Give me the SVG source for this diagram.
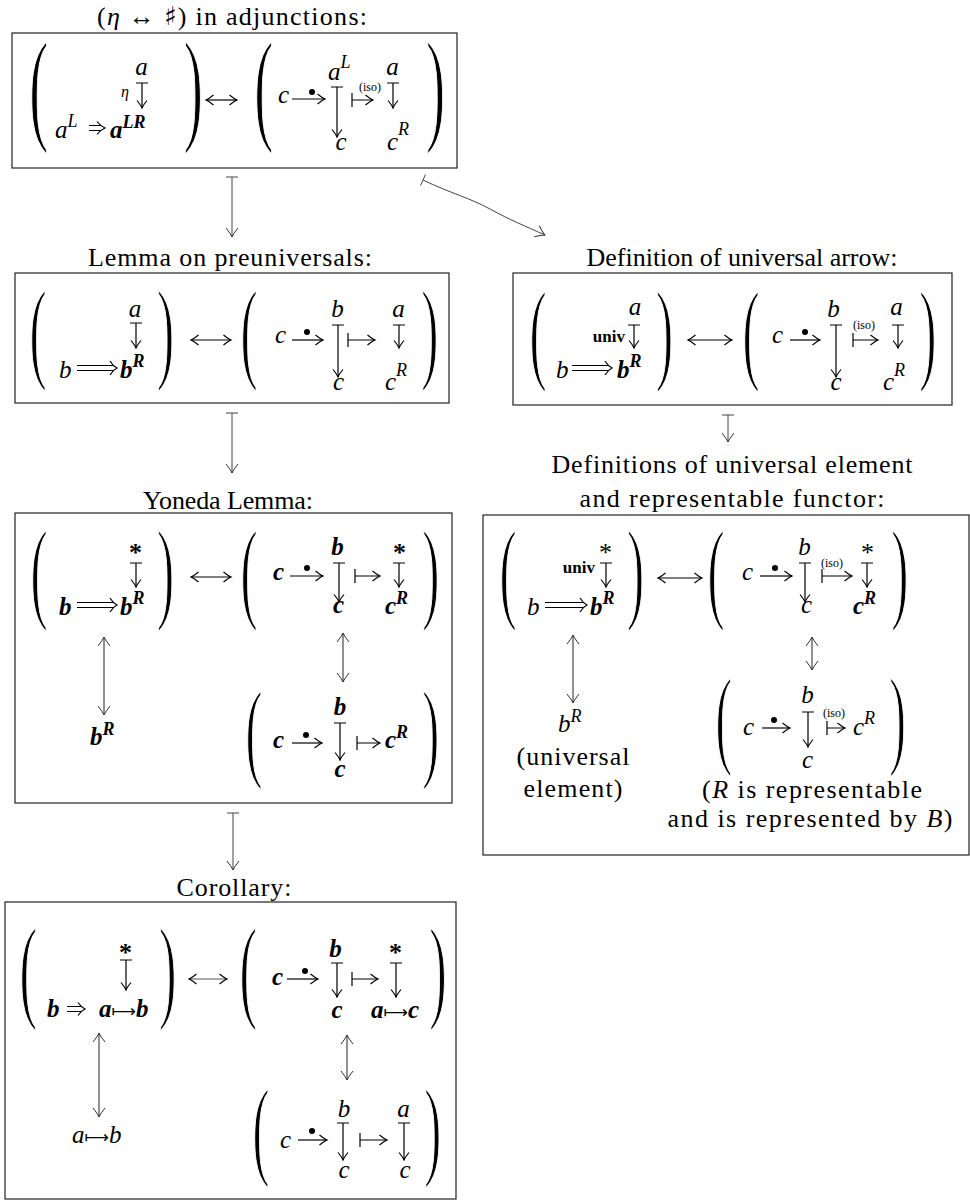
<svg xmlns="http://www.w3.org/2000/svg" width="970" height="1201" viewBox="0 0 970 1201">
<defs>
<style>
.ti{font-family:"Liberation Serif","DejaVu Serif",serif;font-size:26px;fill:#000}
.m{font-family:"Liberation Serif","DejaVu Serif",serif;font-style:italic;font-size:25px;fill:#000}
.b{font-weight:bold}
.st{font-style:normal}
.sp{font-size:18px}
.iso{font-family:"Liberation Serif",serif;font-size:12px;fill:#000}
.un{font-family:"Liberation Serif",serif;font-weight:bold;font-size:17px;fill:#000}
.pa{font-family:"Liberation Serif",serif;font-size:112px;fill:#000;stroke:#fff;stroke-width:1.8px}
.ar{font-family:"DejaVu Sans",sans-serif;font-style:normal;font-weight:normal;font-size:17px}
.c{text-anchor:middle}
.e{text-anchor:end}
.box{fill:none;stroke:#222;stroke-width:1.2}
.a{fill:none;stroke:#000;stroke-width:1.2}
.ah{marker-end:url(#h)}
.dd{marker-start:url(#h);marker-end:url(#h)}
.cn{fill:none;stroke:#444;stroke-width:1;marker-end:url(#g)}
.v{fill:none;stroke:#222;stroke-width:1;marker-start:url(#g);marker-end:url(#g)}
</style>
<marker id="h" viewBox="-9 -6 10 12" refX="0" refY="0" markerWidth="10" markerHeight="12" markerUnits="userSpaceOnUse" orient="auto-start-reverse" overflow="visible"><path d="M-7.5,-5 Q-2.5,-1 0,0 Q-2.5,1 -7.5,5" fill="none" stroke="#000" stroke-width="1.2"/></marker>
<marker id="g" viewBox="-10 -7 11 14" refX="0" refY="0" markerWidth="11" markerHeight="14" markerUnits="userSpaceOnUse" orient="auto-start-reverse" overflow="visible"><path d="M-9,-6 Q-3,-1.2 0,0 Q-3,1.2 -9,6" fill="none" stroke="#333" stroke-width="1"/></marker>
</defs>
<rect width="970" height="1201" fill="#fff"/>

<!-- titles -->
<g id="titles">
<text class="ti c" x="232" y="25" textLength="270">(<tspan font-style="italic">η</tspan> ↔ <tspan font-family="DejaVu Sans">♯</tspan>) in adjunctions:</text>
<text class="ti c" x="230" y="266" textLength="284">Lemma on preuniversals:</text>
<text class="ti c" x="742" y="266" textLength="311">Definition of universal arrow:</text>
<text class="ti c" x="228" y="509" textLength="170">Yoneda Lemma:</text>
<text class="ti c" x="732" y="473" textLength="361">Definitions of universal element</text>
<text class="ti c" x="732" y="507" textLength="305">and representable functor:</text>
<text class="ti c" x="234" y="896" textLength="115">Corollary:</text>
</g>

<!-- top box -->
<g id="adjunctions">
<rect class="box" x="12" y="33" width="445" height="135"/>
<text class="pa" style="font-size:125px" transform="matrix(0.46,0,0,1,29.3,127.5)">(</text>
<text class="pa" style="font-size:125px" transform="matrix(0.46,0,0,1,183.7,127.5)">)</text>
<text class="pa" style="font-size:125px" transform="matrix(0.46,0,0,1,254.3,127.5)">(</text>
<text class="pa" style="font-size:125px" transform="matrix(0.46,0,0,1,426,127.5)">)</text>
<text class="m c" x="141.5" y="75">a</text>
<text class="m c" x="125" y="97" style="font-size:16px">η</text>
<path class="a ah" d="M136,83H148M142,83V108"/>
<text class="m" x="55" y="138">a<tspan class="sp" dy="-11">L</tspan></text>
<path class="a" d="M89,125.5H101M89,130.5H101M97,121.5Q101,126.5 105,128Q101,129.5 97,134.5"/>
<text class="m b" x="110" y="138">a<tspan class="sp" dy="-10">LR</tspan></text>
<path class="a dd" d="M206,100H237"/>
<text class="m" x="278" y="103">c</text>
<path class="a ah" d="M292,99H325"/>
<circle cx="312" cy="92" r="3"/>
<text class="m" x="328" y="80">a<tspan class="sp" dy="-12">L</tspan></text>
<path class="a ah" d="M331,87H343M337,87V137"/>
<text class="m c" x="341" y="150">c</text>
<text class="iso c" x="370" y="91">(iso)</text>
<path class="a ah" d="M352,93V107M352,100H373"/>
<text class="m c" x="392.5" y="75">a</text>
<path class="a ah" d="M387,83H399M393,83V108"/>
<text class="m" x="387" y="150">c<tspan class="sp" dy="-15">R</tspan></text>
</g>

<!-- Lemma on preuniversals -->
<g id="preuniversals">
<rect class="box" x="15" y="273" width="434" height="130"/>
<text class="pa" transform="matrix(0.46,0,0,1,29.5,367.7)">(</text>
<text class="pa" transform="matrix(0.46,0,0,1,157,367.7)">)</text>
<text class="pa" transform="matrix(0.46,0,0,1,240.5,367.7)">(</text>
<text class="pa" transform="matrix(0.46,0,0,1,421.3,367.7)">)</text>
<text class="m c" x="135" y="317">a</text>
<path class="a ah" d="M130,323H142M136,323V348"/>
<text class="m" x="59" y="378">b</text>
<path class="a" d="M77,365.5H113M77,370.5H113M110,361Q113,366 117,368Q113,370 110,375"/>
<text class="m b" x="120" y="378">b<tspan class="sp" dy="-11">R</tspan></text>
<path class="a dd" d="M191,340H231"/>
<text class="m" x="275" y="343">c</text>
<path class="a ah" d="M292,340H323"/>
<circle cx="307" cy="332" r="3"/>
<text class="m c" x="337.5" y="317">b</text>
<path class="a ah" d="M332,325H344M338,325V377"/>
<text class="m c" x="338.5" y="390">c</text>
<path class="a ah" d="M348,333V347M348,340H375"/>
<text class="m c" x="398.5" y="317">a</text>
<path class="a ah" d="M393,325H405M399,325V348"/>
<text class="m" x="385" y="390">c<tspan class="sp" dy="-14">R</tspan></text>
</g>

<!-- Definition of universal arrow -->
<g id="universal-arrow">
<rect class="box" x="513" y="273" width="439" height="132"/>
<text class="pa" transform="matrix(0.46,0,0,1,529.5,368.7)">(</text>
<text class="pa" transform="matrix(0.46,0,0,1,656,368.7)">)</text>
<text class="pa" transform="matrix(0.46,0,0,1,742.5,368.7)">(</text>
<text class="pa" transform="matrix(0.46,0,0,1,919.3,368.7)">)</text>
<text class="m c" x="635" y="315">a</text>
<text class="un e" x="625" y="342">univ</text>
<path class="a ah" d="M628,325H640M634,325V348"/>
<text class="m" x="556" y="378">b</text>
<path class="a" d="M572,365.5H608M572,370.5H608M605,361Q608,366 612,368Q608,370 605,375"/>
<text class="m b" x="617" y="378">b<tspan class="sp" dy="-11">R</tspan></text>
<path class="a dd" d="M688,340H732"/>
<text class="m" x="772" y="343">c</text>
<path class="a ah" d="M790,340H820"/>
<circle cx="805" cy="332" r="3"/>
<text class="m c" x="833.5" y="317">b</text>
<path class="a ah" d="M830,325H842M836,325V377"/>
<text class="m c" x="836" y="390">c</text>
<text class="iso c" x="864" y="329">(iso)</text>
<path class="a ah" d="M853,333V347M853,340H878"/>
<text class="m c" x="896.5" y="315">a</text>
<path class="a ah" d="M892,325H904M898,325V348"/>
<text class="m" x="883" y="390">c<tspan class="sp" dy="-14">R</tspan></text>
</g>

<!-- Yoneda Lemma -->
<g id="yoneda">
<rect class="box" x="15" y="513" width="437" height="290"/>
<text class="pa" transform="matrix(0.46,0,0,1,30.5,607.7)">(</text>
<text class="pa" transform="matrix(0.46,0,0,1,157,607.7)">)</text>
<text class="pa" transform="matrix(0.46,0,0,1,240.5,607.7)">(</text>
<text class="pa" transform="matrix(0.46,0,0,1,422.3,607.7)">)</text>
<text class="m b st c" x="135.5" y="561" style="font-size:26px">*</text>
<path class="a ah" d="M130,563H142M136,563V587"/>
<text class="m b" x="59" y="615">b</text>
<path class="a" d="M77,602.5H113M77,607.5H113M110,598Q113,603 117,605Q113,607 110,612"/>
<text class="m b" x="120" y="615">b<tspan class="sp" dy="-11">R</tspan></text>
<path class="a dd" d="M191,577H231"/>
<text class="m b" x="273" y="580">c</text>
<path class="a ah" d="M290,576H323"/>
<circle cx="307" cy="568" r="3"/>
<text class="m b c" x="337.5" y="555">b</text>
<path class="a ah" d="M333,563H345M339,563V602"/>
<text class="m b c" x="338.5" y="613">c</text>
<path class="a ah" d="M355,569V583M355,576H380"/>
<text class="m b st c" x="399.5" y="561" style="font-size:26px">*</text>
<path class="a ah" d="M393,563H405M399,563V587"/>
<text class="m b" x="385" y="614">c<tspan class="sp" dy="-10">R</tspan></text>
<path class="v" d="M104,637V715"/>
<path class="v" d="M343,633V682"/>
<text class="m b" x="90" y="745">b<tspan class="sp" dy="-10">R</tspan></text>
<text class="pa" style="font-size:111px" transform="matrix(0.46,0,0,1,245.5,767)">(</text>
<text class="pa" style="font-size:111px" transform="matrix(0.46,0,0,1,422.3,767)">)</text>
<text class="m b" x="273" y="748">c</text>
<path class="a ah" d="M292,743H322"/>
<circle cx="306" cy="735" r="3"/>
<text class="m b c" x="340" y="715">b</text>
<path class="a ah" d="M334,723H346M340,723V760"/>
<text class="m b c" x="340" y="777">c</text>
<path class="a ah" d="M357,736V750M357,743H380"/>
<text class="m b" x="385" y="748">c<tspan class="sp" dy="-10">R</tspan></text>
</g>

<!-- Definitions of universal element and representable functor -->
<g id="universal-element">
<rect class="box" x="483" y="515" width="486" height="340"/>
<text class="pa" transform="matrix(0.46,0,0,1,499.5,607.7)">(</text>
<text class="pa" transform="matrix(0.46,0,0,1,627,607.7)">)</text>
<text class="pa" transform="matrix(0.46,0,0,1,707.5,607.7)">(</text>
<text class="pa" transform="matrix(0.46,0,0,1,891.3,607.7)">)</text>
<text class="m st c" x="605.5" y="561" style="font-size:26px">*</text>
<text class="un e" x="595" y="573">univ</text>
<path class="a ah" d="M600,563H612M606,563V587"/>
<text class="m" x="527" y="615">b</text>
<path class="a" d="M545,602.5H583M545,607.5H583M580,598Q583,603 587,605Q583,607 580,612"/>
<text class="m b" x="590" y="615">b<tspan class="sp" dy="-11">R</tspan></text>
<path class="a dd" d="M658,578H702"/>
<text class="m" x="742" y="580">c</text>
<path class="a ah" d="M760,576H792"/>
<circle cx="775" cy="568" r="3"/>
<text class="m c" x="804.5" y="555">b</text>
<path class="a ah" d="M799,563H811M805,563V602"/>
<text class="m c" x="806.5" y="613">c</text>
<text class="iso c" x="832" y="567">(iso)</text>
<path class="a ah" d="M822,569V583M822,576H852"/>
<text class="m st c" x="867.5" y="561" style="font-size:26px">*</text>
<path class="a ah" d="M861,563H873M867,563V587"/>
<text class="m b" x="853" y="614">c<tspan class="sp" dy="-10">R</tspan></text>
<path class="v" d="M573,635V703"/>
<path class="v" d="M812,637V670"/>
<text class="m" x="558" y="732">b<tspan class="sp" dy="-10">R</tspan></text>
<text class="ti c" x="573" y="765" textLength="113">(universal</text>
<text class="ti c" x="573" y="797" textLength="99">element)</text>
<text class="pa" style="font-size:109px" transform="matrix(0.46,0,0,1,715.6,753.7)">(</text>
<text class="pa" style="font-size:109px" transform="matrix(0.46,0,0,1,889.3,753.7)">)</text>
<text class="m" x="743" y="735">c</text>
<path class="a ah" d="M762,728H790"/>
<circle cx="774" cy="720" r="3"/>
<text class="m c" x="807.5" y="703">b</text>
<path class="a ah" d="M802,712H814M808,712V747"/>
<text class="m c" x="807.5" y="768">c</text>
<text class="iso c" x="834" y="717">(iso)</text>
<path class="a ah" d="M827,721V735M827,728H845"/>
<text class="m" x="853" y="735">c<tspan class="sp" dy="-11">R</tspan></text>
<text class="ti c" x="812" y="798" textLength="220">(<tspan font-style="italic">R</tspan> is representable</text>
<text class="ti c" x="810" y="827" textLength="285">and is represented by <tspan font-style="italic">B</tspan>)</text>
</g>

<!-- Corollary -->
<g id="corollary">
<rect class="box" x="5" y="902" width="451" height="297"/>
<text class="pa" style="font-size:114px" transform="matrix(0.46,0,0,1,19.5,1007)">(</text>
<text class="pa" style="font-size:114px" transform="matrix(0.46,0,0,1,159,1007)">)</text>
<text class="pa" style="font-size:114px" transform="matrix(0.46,0,0,1,239.5,1007)">(</text>
<text class="pa" style="font-size:114px" transform="matrix(0.46,0,0,1,429.3,1007)">)</text>
<text class="m b st c" x="125.5" y="961" style="font-size:26px">*</text>
<path class="a ah" d="M120,960H132M126,960V990"/>
<text class="m b" x="47" y="1017">b</text>
<path class="a" d="M67,1006.5H81M67,1011.5H81M78,1002.5Q81,1007 85,1009Q81,1011 78,1015.5"/>
<text class="m b" x="99" y="1017">a<tspan class="ar">⟼</tspan>b</text>
<path class="a dd" d="M189,979H227" style="stroke:#555"/>
<text class="m b" x="272" y="985">c</text>
<path class="a ah" d="M287,979H318"/>
<circle cx="305" cy="971" r="3"/>
<text class="m b c" x="335.5" y="957">b</text>
<path class="a ah" d="M331,963H343M337,963V997"/>
<text class="m b c" x="337" y="1018">c</text>
<path class="a ah" d="M352,972V986M352,979H378"/>
<text class="m b st c" x="395.5" y="961" style="font-size:26px">*</text>
<path class="a ah" d="M390,963H402M396,963V997"/>
<text class="m b" x="371" y="1018">a<tspan class="ar">⟼</tspan>c</text>
<path class="v" d="M99,1033V1117"/>
<path class="v" d="M347,1035V1080"/>
<text class="m" x="72" y="1143">a<tspan class="ar">⟼</tspan>b</text>
<text class="pa" style="font-size:111px" transform="matrix(0.46,0,0,1,252.5,1165)">(</text>
<text class="pa" style="font-size:111px" transform="matrix(0.46,0,0,1,424.3,1165)">)</text>
<text class="m" x="280" y="1148">c</text>
<path class="a ah" d="M298,1140H327"/>
<circle cx="312" cy="1131" r="3"/>
<text class="m c" x="344" y="1117">b</text>
<path class="a ah" d="M337,1123H349M343,1123V1160"/>
<text class="m c" x="344" y="1178">c</text>
<path class="a ah" d="M360,1133V1147M360,1140H387"/>
<text class="m c" x="403.5" y="1117">a</text>
<path class="a ah" d="M398,1123H410M404,1123V1160"/>
<text class="m c" x="405" y="1178">c</text>
</g>

<!-- connectors between nodes -->
<g id="connectors">
<path class="cn" d="M226,177H238M232,177V237"/>
<path fill="none" stroke="#444" stroke-width="1" d="M420.5,185.5L425.5,174.5"/>
<path class="cn" d="M423,180C450,193 470,198 490,209S525,226 545,235"/>
<path class="cn" d="M226,413H238M232,413V473"/>
<path class="cn" d="M722,415H734M728,415V442"/>
<path class="cn" d="M227,813H239M233,813V870"/>
</g>
</svg>
